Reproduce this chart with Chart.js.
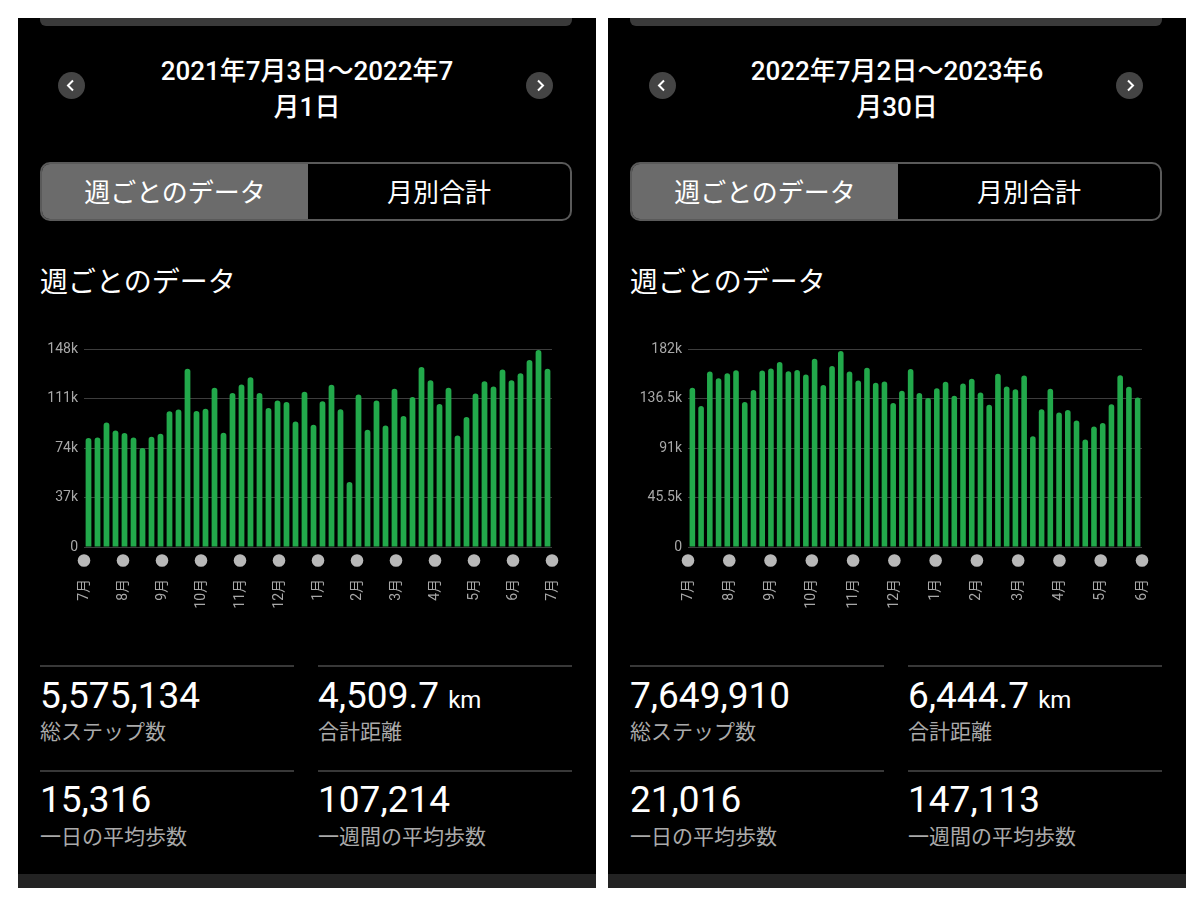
<!DOCTYPE html>
<html><head><meta charset="utf-8">
<script src="https://cdn.jsdelivr.net/npm/chart.js@4"></script>
<style>
html,body{margin:0;padding:0;background:#fff;width:1200px;height:901px;overflow:hidden;font-family:Roboto,"Noto Sans CJK JP",sans-serif;}
.panel{position:absolute;top:18px;width:578px;height:870px;background:#000;overflow:hidden;color:#fff;}
.topbar{position:absolute;left:22px;top:0;width:532px;height:8px;background:#3a3a3a;border-radius:0 0 6px 6px;}
.date{position:absolute;left:0;top:35px;width:578px;text-align:center;font-size:26px;line-height:36px;font-weight:500;}
.arrow{position:absolute;top:54px;width:27px;height:27px;border-radius:50%;background:#444;}
.arrow svg{position:absolute;left:0;top:0;}
.toggle{position:absolute;left:22px;top:144px;width:528px;height:55px;border:2px solid #5a5a5a;border-radius:10px;overflow:hidden;}
.seg{position:absolute;top:2px;height:55px;line-height:55px;text-align:center;font-size:26px;}
.segbg{position:absolute;left:0;top:0;width:266px;height:55px;background:#6b6b6b;}
.seg.on{left:0;width:266px;}
.seg.off{left:266px;width:262px;}
.title{position:absolute;left:22px;top:246px;font-size:28px;line-height:38px;}
canvas{position:absolute;left:12px;top:317px;}
.div{position:absolute;height:2px;width:254px;background:#383838;}
.num{position:absolute;font-size:37px;line-height:36px;font-weight:400;}
.num small{font-size:24px;}
.lab{position:absolute;font-size:21px;line-height:21px;color:#aaa;}
.strip{position:absolute;left:0;top:856px;width:578px;height:14px;background:#232323;}
</style></head>
<body>
<div class="panel" style="left:18px">
  <div class="topbar"></div>
  <div class="date">2021年7月3日～2022年7<br>月1日</div>
  <div class="arrow" style="left:40px"><svg width="27" height="27"><polyline points="15,8.5 10,13.5 15,18.5" fill="none" stroke="#fff" stroke-width="2"/></svg></div>
  <div class="arrow" style="left:508px"><svg width="27" height="27"><polyline points="12,8.5 17,13.5 12,18.5" fill="none" stroke="#fff" stroke-width="2"/></svg></div>
  <div class="toggle"><div class="segbg"></div><div class="seg on">週ごとのデータ</div><div class="seg off">月別合計</div></div>
  <div class="title">週ごとのデータ</div>
  <canvas id="c1" width="530" height="292"></canvas>
  <div class="div" style="left:22px;top:647px"></div><div class="div" style="left:300px;top:647px"></div>
  <div class="num" style="left:22px;top:660px">5,575,134</div>
  <div class="num" style="left:300px;top:660px">4,509.7 <small>km</small></div>
  <div class="lab" style="left:22px;top:704px">総ステップ数</div>
  <div class="lab" style="left:300px;top:704px">合計距離</div>
  <div class="div" style="left:22px;top:752px"></div><div class="div" style="left:300px;top:752px"></div>
  <div class="num" style="left:22px;top:764px">15,316</div>
  <div class="num" style="left:300px;top:764px">107,214</div>
  <div class="lab" style="left:22px;top:809px">一日の平均歩数</div>
  <div class="lab" style="left:300px;top:809px">一週間の平均歩数</div>
  <div class="strip"></div>
</div>
<div class="panel" style="left:608px">
  <div class="topbar"></div>
  <div class="date">2022年7月2日～2023年6<br>月30日</div>
  <div class="arrow" style="left:41px"><svg width="27" height="27"><polyline points="15,8.5 10,13.5 15,18.5" fill="none" stroke="#fff" stroke-width="2"/></svg></div>
  <div class="arrow" style="left:508px"><svg width="27" height="27"><polyline points="12,8.5 17,13.5 12,18.5" fill="none" stroke="#fff" stroke-width="2"/></svg></div>
  <div class="toggle"><div class="segbg"></div><div class="seg on">週ごとのデータ</div><div class="seg off">月別合計</div></div>
  <div class="title">週ごとのデータ</div>
  <canvas id="c2" width="530" height="292"></canvas>
  <div class="div" style="left:22px;top:647px"></div><div class="div" style="left:300px;top:647px"></div>
  <div class="num" style="left:22px;top:660px">7,649,910</div>
  <div class="num" style="left:300px;top:660px">6,444.7 <small>km</small></div>
  <div class="lab" style="left:22px;top:704px">総ステップ数</div>
  <div class="lab" style="left:300px;top:704px">合計距離</div>
  <div class="div" style="left:22px;top:752px"></div><div class="div" style="left:300px;top:752px"></div>
  <div class="num" style="left:22px;top:764px">21,016</div>
  <div class="num" style="left:300px;top:764px">147,113</div>
  <div class="lab" style="left:22px;top:809px">一日の平均歩数</div>
  <div class="lab" style="left:300px;top:809px">一週間の平均歩数</div>
  <div class="strip"></div>
</div>
<script>
// Weekly step totals, 2021-07-03 .. 2022-07-01
const steps2122 = [
  81600, 82000, 93200, 87300, 85300, 82000, 74100, 82500, 84800, 101600,
  102900, 133600, 101900, 103600, 119200, 85500, 115300, 121700, 127200, 115300,
  104100, 109800, 108600, 94000, 116300, 91500, 109100, 121500, 103100, 48600,
  114300, 87800, 109800, 91000, 118500, 98200, 112300, 134900, 124900, 107100,
  119200, 83500, 97400, 115000, 124200, 120200, 132900, 124900, 130100, 140100,
  147500, 133600
];
// Weekly step totals, 2022-07-02 .. 2023-06-30
const steps2223 = [
  146600, 129900, 161600, 155500, 160100, 162800, 133500, 144500, 162500, 164300,
  170400, 161900, 163100, 158800, 173500, 149100, 166800, 180500, 161600, 153400,
  165200, 151200, 152400, 132600, 143900, 164000, 141800, 137200, 146300, 152100,
  139300, 150600, 154900, 142400, 131100, 159500, 147900, 145400, 157900, 102100,
  126800, 145700, 123800, 126200, 116500, 99100, 111000, 114300, 131400, 158200,
  147600, 137800
];
const months2122 = ['7月','8月','9月','10月','11月','12月','1月','2月','3月','4月','5月','6月','7月'];
const months2223 = ['7月','8月','9月','10月','11月','12月','1月','2月','3月','4月','5月','6月'];
const yTicks2122 = [0, 37000, 74000, 111000, 148000];
const yLabels2122 = ['0','37k','74k','111k','148k'];
const yTicks2223 = [0, 45500, 91000, 136500, 182000];
const yLabels2223 = ['0','45.5k','91k','136.5k','182k'];

const FONT = 'Roboto, "Noto Sans CJK JP", sans-serif';
const monthDots = {
  id: 'monthDots',
  afterDraw(chart) {
    const s = chart.scales.x2, ctx = chart.ctx;
    ctx.save();
    ctx.fillStyle = '#b8b8b8';
    s.ticks.forEach(t => {
      ctx.beginPath();
      ctx.arc(s.getPixelForValue(t.value), chart.chartArea.bottom + 13.5, 6.3, 0, Math.PI * 2);
      ctx.fill();
    });
    ctx.restore();
  }
};

function makeChart(id, values, months, yTicks, yLabels, yWidth) {
  new Chart(document.getElementById(id), {
    type: 'bar',
    data: {
      labels: values.map((_, i) => 'W' + (i + 1)),
      datasets: [{
        data: values,
        backgroundColor: '#22a94b',
        borderRadius: { topLeft: 3, topRight: 3, bottomLeft: 0, bottomRight: 0 },
        borderSkipped: false,
        barPercentage: 0.64,
        categoryPercentage: 1,
        xAxisID: 'x', yAxisID: 'y'
      }]
    },
    options: {
      responsive: false, animation: false,
      layout: { padding: { top: 13, right: 8, left: 0, bottom: 0 } },
      plugins: { legend: { display: false }, tooltip: { enabled: false } },
      scales: {
        x: { type: 'category', display: false, offset: true },
        x2: {
          type: 'linear', position: 'bottom', min: 0, max: months.length - 1,
          offset: false,
          grid: { display: false, offset: false }, border: { display: false },
          afterBuildTicks: s => { s.ticks = months.map((_, i) => ({ value: i })); },
          ticks: {
            callback: v => months[v], color: '#a8a8a8', font: { size: 14, family: FONT },
            minRotation: 90, maxRotation: 90, padding: 24, autoSkip: false
          },
          afterFit: s => { s.height = 80; s.paddingLeft = 0; s.paddingRight = 0; }
        },
        y: {
          min: 0, max: yTicks[yTicks.length - 1],
          afterBuildTicks: s => { s.ticks = yTicks.map(v => ({ value: v })); },
          ticks: { callback: (v, i) => yLabels[i], color: '#a8a8a8', font: { size: 14, family: FONT }, padding: 6 },
          grid: { color: '#3d3d3d', lineWidth: 1, drawTicks: false },
          border: { display: false },
          afterFit: s => { s.width = yWidth; }
        }
      }
    },
    plugins: [monthDots]
  });
}
makeChart('c1', steps2122, months2122, yTicks2122, yLabels2122, 54);
makeChart('c2', steps2223, months2223, yTicks2223, yLabels2223, 68);
</script>
</body></html>
